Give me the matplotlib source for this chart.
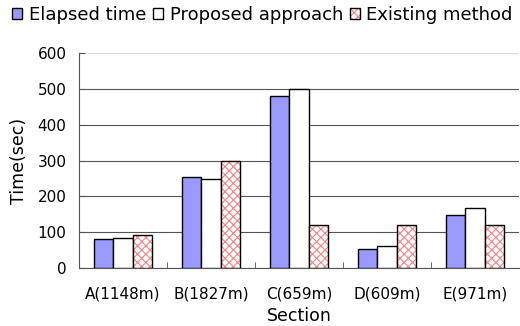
import numpy as np
import matplotlib.pyplot as plt
from matplotlib.patches import Patch

sections = ["A(1148m)", "B(1827m)", "C(659m)", "D(609m)", "E(971m)"]
elapsed_time = [80, 255, 480, 52, 148]
proposed_approach = [84, 248, 500, 60, 168]
existing_method = [93, 300, 120, 120, 120]

plt.rcParams['font.family'] = ['DejaVu Sans']
plt.rcParams['hatch.linewidth'] = 0.8

fig = plt.figure(figsize=(5.2, 3.26), dpi=100)
ax = fig.add_axes([0.152, 0.178, 0.846, 0.659])

x = np.arange(len(sections))
w = 0.22

ax.bar(x - w, elapsed_time, w, color="#9999ff", edgecolor="black", linewidth=1, zorder=3)
ax.bar(x, proposed_approach, w, color="white", edgecolor="black", linewidth=1, zorder=3)
# hatch drawn in red first, then black outline on top
ax.bar(x + w, existing_method, w, color="white", edgecolor="#ff8080", hatch="xxxx",
       linewidth=0, zorder=3)
ax.bar(x + w, existing_method, w, fill=False, edgecolor="black", linewidth=1, zorder=4)

ax.set_xlim(-0.5, len(sections) - 0.5)
ax.set_ylim(0, 600)
ax.set_yticks(range(0, 601, 100))
ax.set_xticks(x)
ax.set_xticklabels(sections, fontsize=11)
ax.set_xticks(np.arange(0.5, len(sections) - 0.5, 1), minor=True)
ax.tick_params(axis="x", which="major", length=0, pad=13)
ax.tick_params(axis="x", which="minor", direction="in", length=4, color="#555555")
ax.tick_params(axis="y", direction="in", length=4, labelsize=11, pad=9, color="#555555")

ax.grid(axis="y", color="#555555", linewidth=0.8, zorder=0)
ax.get_ygridlines()[-1].set_color("#dddddd")
for side in ["top", "right"]:
    ax.spines[side].set_visible(False)
ax.spines["left"].set_color("#555555")
ax.spines["bottom"].set_color("#555555")

ax.set_xlabel("Section", fontsize=12.5, labelpad=4)
ax.set_ylabel("Time(sec)", fontsize=12.5, labelpad=7)

hatched = (Patch(facecolor="white", edgecolor="#ff8080", hatch="xxxx", linewidth=0),
           Patch(fill=False, edgecolor="black"))
handles = [
    Patch(facecolor="#9999ff", edgecolor="black"),
    Patch(facecolor="white", edgecolor="black"),
    hatched,
]
labels = ["Elapsed time", "Proposed approach", "Existing method"]
fig.legend(handles, labels, loc="upper center", bbox_to_anchor=(0.505, 1.015), ncol=3,
           frameon=False, fontsize=13, handlelength=0.55, handleheight=0.55,
           handletextpad=0.35, columnspacing=0.4, borderaxespad=0.2)

fig.savefig("out.png", dpi=100)
